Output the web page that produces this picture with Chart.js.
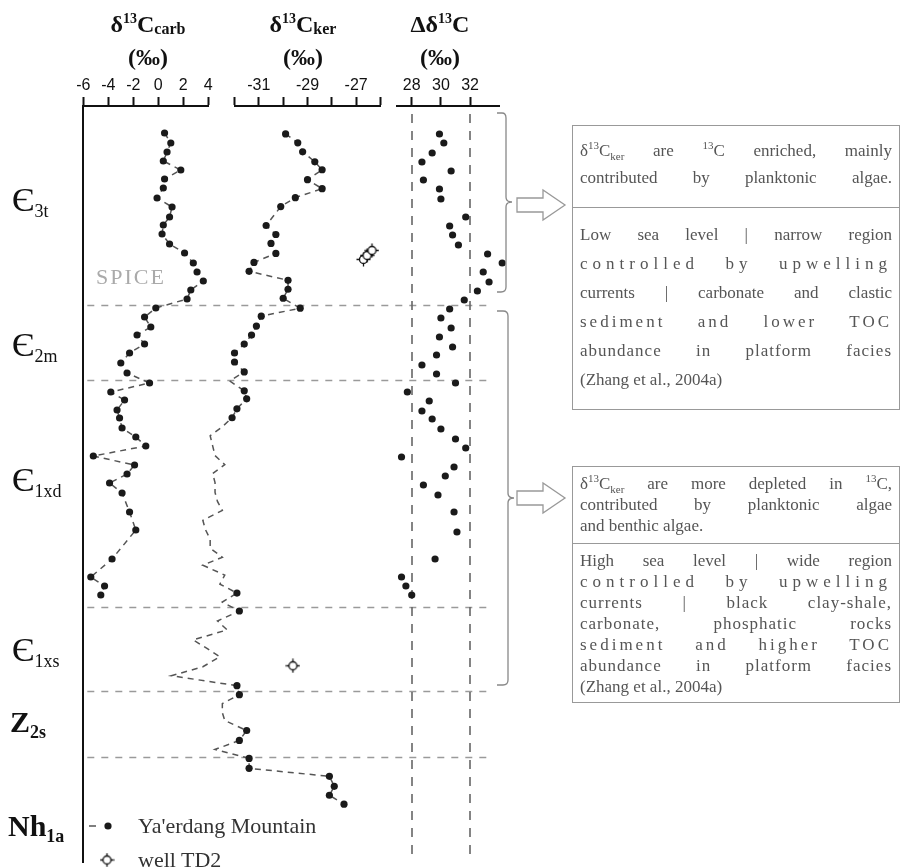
<!DOCTYPE html>
<html lang="en">
<head>
<meta charset="UTF-8" />
<title>Carbon isotope profile, Ya'erdang Mountain</title>
<script src="https://cdn.jsdelivr.net/npm/chart.js@4.4.1/dist/chart.umd.min.js"></script>
<style>
  body { margin: 0; background: #fff; }
  #wrap { position: relative; width: 904px; height: 867px; overflow: hidden; font-family: 'Liberation Serif', 'Times New Roman', serif; color: #111; }
  #wrap canvas { position: absolute; left: 0; top: 0; }
  #deco { position: absolute; left: 0; top: 0; }
  .ttl { position: absolute; transform: translateX(-50%); text-align: center; font-weight: bold; font-size: 24px; line-height: 33px; white-space: nowrap; }
  .ttl sup { font-size: 14px; line-height: 0; vertical-align: 9px; }
  .ttl sub { font-size: 16px; line-height: 0; vertical-align: -2px; }
  .unit { position: absolute; left: 12px; font-size: 34px; line-height: 34px; transform: translateY(-50%); white-space: nowrap; }
  .unit sub { font-size: 18px; line-height: 0; vertical-align: -6px; }
  .unit.b { font-weight: bold; font-size: 30px; left: 10px; }
  .spice { position: absolute; left: 96px; top: 264px; font-size: 22px; letter-spacing: 2px; color: #aaa; }
  .lg { position: absolute; left: 138px; font-size: 22px; color: #333; transform: translateY(-50%); }
  .box { position: absolute; left: 572px; width: 326px; border: 1px solid #999; font-size: 17px; color: #555; }
  .sec { padding: 0 7px; }
  .sec + .sec { border-top: 1px solid #999; }
  .ln { white-space: nowrap; text-align: justify; text-align-last: justify; }
  .ln.l { text-align-last: left; }
  .box sup, .box sub { font-size: 11px; line-height: 0; }
</style>
</head>
<body>
<div id="wrap">
  <canvas id="carbChart" width="904" height="867"></canvas>
  <canvas id="kerChart" width="904" height="867"></canvas>
  <canvas id="deltaChart" width="904" height="867"></canvas>

  <svg id="deco" width="904" height="867">
    <g fill="none" stroke="#888" stroke-width="1.3">
      <path d="M497,113 L502,113 Q506,113 506,118 L506,197 Q506,202 512,202 Q506,202 506,207 L506,287 Q506,292 501,292 L497,292" />
      <path d="M497,311 L503,311 Q508,311 508,316 L508,493 Q508,498 514,498 Q508,498 508,503 L508,680 Q508,685 503,685 L497,685" />
    </g>
    <g fill="#fff" stroke="#999" stroke-width="1.3">
      <polygon points="517,198 543,198 543,190 565,205 543,220 543,212 517,212" />
      <polygon points="517,491 543,491 543,483 565,498 543,513 543,505 517,505" />
    </g>
  </svg>

  <div class="ttl" style="left:148px; top:8px">δ<sup>13</sup>C<sub>carb</sub><br>(‰)</div>
  <div class="ttl" style="left:303px; top:8px">δ<sup>13</sup>C<sub>ker</sub><br>(‰)</div>
  <div class="ttl" style="left:440px; top:8px">Δδ<sup>13</sup>C<br>(‰)</div>

  <div class="unit" style="top:200px">Є<sub>3t</sub></div>
  <div class="unit" style="top:345px">Є<sub>2m</sub></div>
  <div class="unit" style="top:480px">Є<sub>1xd</sub></div>
  <div class="unit" style="top:650px">Є<sub>1xs</sub></div>
  <div class="unit b" style="top:722px">Z<sub>2s</sub></div>
  <div class="unit b" style="top:826px; left:8px">Nh<sub>1a</sub></div>

  <div class="spice">SPICE</div>
  <div class="lg" style="top:826px">Ya'erdang Mountain</div>
  <div class="lg" style="top:860px">well TD2</div>

  <div class="box" style="top:125px">
    <div class="sec" style="line-height:27px; padding-top:11px; padding-bottom:16px">
      <div class="ln">δ<sup>13</sup>C<sub>ker</sub> are <sup>13</sup>C enriched, mainly</div>
      <div class="ln">contributed by planktonic algae.</div>
    </div>
    <div class="sec" style="line-height:29px; padding-top:12px; padding-bottom:15px">
      <div class="ln">Low sea level | narrow region</div>
      <div class="ln" style="letter-spacing:5px">controlled by upwelling</div>
      <div class="ln">currents | carbonate and clastic</div>
      <div class="ln" style="letter-spacing:3px">sediment and lower TOC</div>
      <div class="ln" style="letter-spacing:1px">abundance in platform facies</div>
      <div class="ln l">(Zhang et al., 2004a)</div>
    </div>
  </div>

  <div class="box" style="top:466px">
    <div class="sec" style="line-height:21px; padding-top:6px; padding-bottom:7px">
      <div class="ln">δ<sup>13</sup>C<sub>ker</sub> are more depleted in <sup>13</sup>C,</div>
      <div class="ln">contributed by planktonic algae</div>
      <div class="ln l">and benthic algae.</div>
    </div>
    <div class="sec" style="line-height:21px; padding-top:6px; padding-bottom:5px">
      <div class="ln">High sea level | wide region</div>
      <div class="ln" style="letter-spacing:5px">controlled by upwelling</div>
      <div class="ln" style="letter-spacing:1px">currents | black clay-shale,</div>
      <div class="ln" style="letter-spacing:1px">carbonate, phosphatic rocks</div>
      <div class="ln" style="letter-spacing:3px">sediment and higher TOC</div>
      <div class="ln" style="letter-spacing:1px">abundance in platform facies</div>
      <div class="ln l">(Zhang et al., 2004a)</div>
    </div>
  </div>
</div>

<script>
// stratigraphic height (arbitrary units, 0 = base of section) and values in per mil
const carbHeight = [729, 719, 710, 701, 692, 683, 674, 664, 655, 645, 637, 628, 618, 609, 599, 590, 581, 572, 563,
  554, 545, 535, 527, 518, 509, 499, 489, 479, 470, 462, 452, 444, 434, 425, 416, 406, 397, 388, 379, 369,
  350, 332, 303, 285, 276, 267];
const carbValue = [0.5, 1.0, 0.7, 0.4, 1.8, 0.5, 0.4, -0.1, 1.1, 0.9, 0.4, 0.3, 0.9, 2.1, 2.8, 3.1, 3.6, 2.6, 2.3,
  -0.2, -1.1, -0.6, -1.7, -1.1, -2.3, -3.0, -2.5, -0.7, -3.8, -2.7, -3.3, -3.1, -2.9, -1.8, -1.0, -5.2, -1.9, -2.5, -3.9, -2.9,
  -2.3, -1.8, -3.7, -5.4, -4.3, -4.6];

const kerHeight = [728, 719, 710, 700, 692, 682, 673, 664, 655, 636, 627, 618, 608, 599, 590, 581, 572, 563,
  553, 545, 535, 526, 517, 508, 499, 489, 480, 470, 462, 452, 443, 434, 425, 415, 405, 396, 387, 378, 368,
  359, 350, 340, 331, 321, 312, 303, 295, 285, 276, 267, 258, 249, 239, 230, 220, 211, 203, 193, 184,
  174, 165, 156, 147, 139, 129, 119, 110, 101, 91, 83, 73, 64, 55];
const kerValue = [-29.9, -29.4, -29.2, -28.7, -28.4, -29.0, -28.4, -29.5, -30.1, -30.7, -30.3, -30.5, -30.3, -31.2, -31.4, -29.8, -29.8, -30.0,
  -29.3, -30.9, -31.1, -31.3, -31.6, -32.0, -32.0, -31.6, -32.2, -31.6, -31.5, -31.9, -32.1, -32.5, -33.0, -32.9, -32.8, -32.4, -32.9, -32.8, -32.8,
  -32.7, -32.5, -33.3, -33.2, -33.0, -33.0, -32.5, -33.3, -32.4, -32.6, -31.9, -32.5, -31.8, -32.7, -32.3, -33.7, -33.1, -32.6, -33.3, -34.6,
  -31.9, -31.8, -32.5, -32.5, -32.4, -31.5, -31.8, -32.8, -31.4, -31.4, -28.1, -27.9, -28.1, -27.5];

const deltaHeight = [728, 719, 709, 700, 691, 682, 673, 663, 645, 636, 627, 617, 608, 599, 590, 580, 571, 562,
  553, 544, 534, 525, 515, 507, 497, 488, 479, 470, 461, 451, 443, 433, 423, 414, 405, 395, 386, 377, 367,
  350, 330, 303, 285, 276, 267];
const deltaValue = [29.9, 30.2, 29.4, 28.7, 30.7, 28.8, 29.9, 30.0, 31.7, 30.6, 30.8, 31.2, 33.2, 34.2, 32.9, 33.3, 32.5, 31.6,
  30.6, 30.0, 30.7, 29.9, 30.8, 29.7, 28.7, 29.7, 31.0, 27.7, 29.2, 28.7, 29.4, 30.0, 31.0, 31.7, 27.3, 30.9, 30.3, 28.8, 29.8,
  30.9, 31.1, 29.6, 27.3, 27.6, 28.0];

const td2Height = [602, 606, 611, 194];
const td2Value = [-26.7, -26.55, -26.35, -29.6];

// unit boundaries (same height units) and axis ticks
const boundaries = [557, 482, 255, 171, 105];
const carbTicks = [-6, -4, -2, 0, 2, 4];
const kerTicks = [-32, -31, -30, -29, -28, -27, -26];
const kerLabels = [-31, -29, -27];
const deltaTicks = [28, 30, 32];
const deltaGuides = [28, 32];

const AXIS_Y = 106, BASE_Y = 862, W = 904, H = 867;
const LINE_END = 490;

const pts = (hs, vs) => hs.map((h, i) => ({ x: vs[i], y: h }));

function td2Marker() {
  const c = document.createElement('canvas');
  c.width = 15; c.height = 15;
  const g = c.getContext('2d');
  g.strokeStyle = '#111'; g.lineWidth = 1.3;
  g.beginPath(); g.moveTo(7.5, 0.5); g.lineTo(7.5, 14.5); g.moveTo(0.5, 7.5); g.lineTo(14.5, 7.5); g.stroke();
  g.beginPath(); g.arc(7.5, 7.5, 4, 0, Math.PI * 2); g.fillStyle = '#fff'; g.fill(); g.stroke();
  return c;
}
const starImg = td2Marker();

const lineStyle = { showLine: true, borderColor: '#555', borderWidth: 1.5, borderDash: [6, 5],
  pointRadius: 3.6, pointBackgroundColor: '#1a1a1a', pointBorderWidth: 0, clip: false };

function panel(id, left, right, min, max, ticks, labelFn, datasets, plugins, yBorder) {
  return new Chart(document.getElementById(id), {
    type: 'scatter',
    data: { datasets: datasets },
    options: {
      responsive: false, animation: false, devicePixelRatio: 1,
      layout: { padding: { left: left, right: W - right, top: AXIS_Y - 40, bottom: H - BASE_Y } },
      plugins: { legend: { display: false }, tooltip: { enabled: false } },
      scales: {
        x: {
          type: 'linear', position: 'top', min: min, max: max,
          afterFit: s => { s.height = 40; },
          afterBuildTicks: s => { s.ticks = ticks.map(v => ({ value: v })); },
          ticks: { callback: labelFn, color: '#111', padding: 2, maxRotation: 0, autoSkip: false,
            font: { family: 'Liberation Sans', size: 16 } },
          grid: { drawOnChartArea: false, tickLength: 9, tickWidth: 2, tickColor: '#111' },
          border: { color: '#111', width: 2 }
        },
        y: {
          type: 'linear', min: 0, max: 756, display: yBorder,
          afterFit: s => { s.width = 0; },
          ticks: { display: false },
          grid: { display: false, drawTicks: false },
          border: { display: true, color: '#111', width: 2 }
        }
      }
    },
    plugins: plugins
  });
}

// dashed unit boundaries + legend symbols, drawn on the carb panel
const boundaryPlugin = {
  id: 'boundaries',
  beforeDatasetsDraw(chart) {
    const { ctx, chartArea, scales: { y } } = chart;
    ctx.save();
    ctx.strokeStyle = '#9a9a9a'; ctx.lineWidth = 1.5; ctx.setLineDash([7, 7]);
    boundaries.forEach(h => {
      const py = Math.round(y.getPixelForValue(h)) + 0.5;
      ctx.beginPath(); ctx.moveTo(chartArea.left + 4, py); ctx.lineTo(LINE_END, py); ctx.stroke();
    });
    ctx.restore();
  },
  afterDraw(chart) {
    const ctx = chart.ctx;
    ctx.save();
    ctx.strokeStyle = lineStyle.borderColor; ctx.lineWidth = lineStyle.borderWidth;
    ctx.setLineDash([7, 20]);
    ctx.beginPath(); ctx.moveTo(89, 826); ctx.lineTo(104, 826); ctx.stroke();
    ctx.setLineDash([]);
    ctx.fillStyle = lineStyle.pointBackgroundColor;
    ctx.beginPath(); ctx.arc(108, 826, lineStyle.pointRadius, 0, Math.PI * 2); ctx.fill();
    ctx.drawImage(starImg, 107 - 7.5, 860 - 7.5);
    ctx.restore();
  }
};

// vertical dashed guides on the difference panel
const guidePlugin = {
  id: 'guides',
  beforeDatasetsDraw(chart) {
    const { ctx, chartArea, scales: { x } } = chart;
    ctx.save();
    ctx.strokeStyle = '#666'; ctx.lineWidth = 1.6; ctx.setLineDash([9, 8]);
    deltaGuides.forEach(v => {
      const px = Math.round(x.getPixelForValue(v));
      ctx.beginPath(); ctx.moveTo(px, chartArea.top + 8); ctx.lineTo(px, chartArea.bottom); ctx.stroke();
    });
    ctx.restore();
  }
};

panel('carbChart', 83.3, 208.3, -6, 4, carbTicks, v => String(v),
  [Object.assign({ label: "Ya'erdang Mountain", data: pts(carbHeight, carbValue) }, lineStyle)],
  [boundaryPlugin], true);

panel('kerChart', 234.5, 380.5, -32, -26, kerTicks, v => (kerLabels.includes(v) ? String(v) : ''),
  [Object.assign({ label: "Ya'erdang Mountain", data: pts(kerHeight, kerValue) }, lineStyle),
   { label: 'well TD2', data: pts(td2Height, td2Value), pointStyle: starImg, pointRadius: 7, clip: false }],
  [], false);

panel('deltaChart', 396.7, 500, 26.97, 34.05, deltaTicks, v => String(v),
  [{ label: "Ya'erdang Mountain", data: pts(deltaHeight, deltaValue), showLine: false,
     pointRadius: 3.6, pointBackgroundColor: '#1a1a1a', pointBorderWidth: 0, clip: false }],
  [guidePlugin], false);
</script>
</body>
</html>
